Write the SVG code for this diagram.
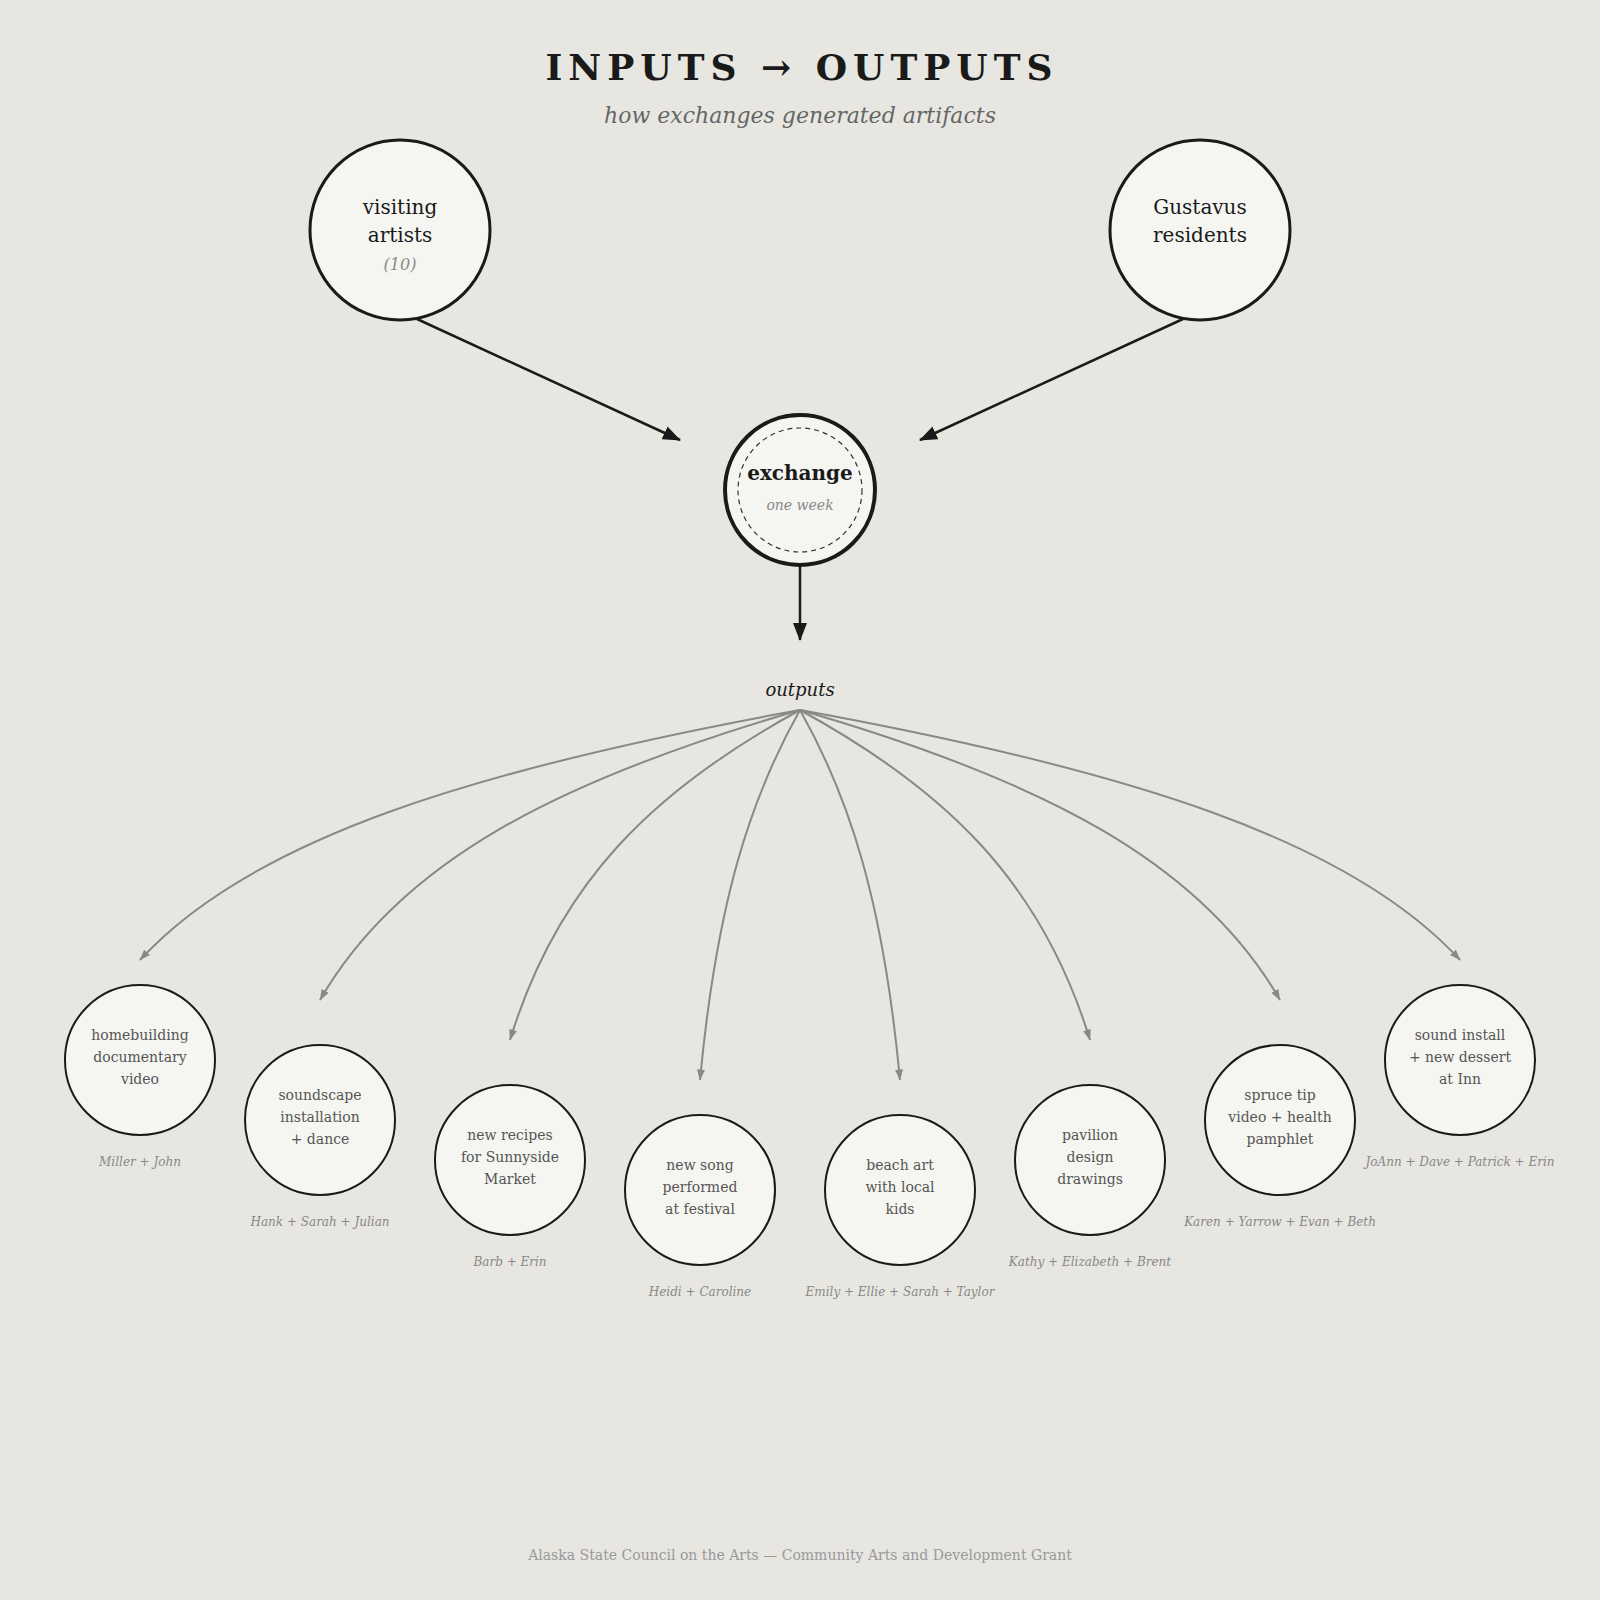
<svg xmlns="http://www.w3.org/2000/svg" width="1600" height="1600" viewBox="0 0 1600 1600">
<style>
text{font-family:"DejaVu Serif","Liberation Serif",serif;text-anchor:middle}
.title{font-size:36px;font-weight:bold;letter-spacing:6px;fill:#1a1a1a}
.sub{font-size:22px;font-style:italic;fill:#666}
.top{fill:#f5f5f1;stroke:#1a1a1a;stroke-width:3}
.topt{font-size:20px;fill:#1a1a1a}
.cnt{font-size:16px;font-style:italic;fill:#888}
.out{fill:#f5f5f1;stroke:#1a1a1a;stroke-width:2}
.outt{font-size:14px;fill:#555}
.who{font-size:12px;font-style:italic;fill:#888}
.bl{stroke:#1a1a1a;stroke-width:2.5;fill:none}
.gr{stroke:#888;stroke-width:2;fill:none}
</style>
<defs>
<marker id="ab" viewBox="0 0 18 14" refX="17" refY="7" markerWidth="18" markerHeight="14" markerUnits="userSpaceOnUse" orient="auto"><path d="M0,0 L18,7 L0,14 z" fill="#1a1a1a"/></marker>
<marker id="ag" viewBox="0 0 11 8" refX="10.5" refY="4" markerWidth="11" markerHeight="8" markerUnits="userSpaceOnUse" orient="auto"><path d="M0,0 L11,4 L0,8 z" fill="#888"/></marker>
</defs>
<rect width="1600" height="1600" fill="#e7e6e1"/>
<text class="title" x="802" y="80">INPUTS → OUTPUTS</text>
<text class="sub" x="800" y="123">how exchanges generated artifacts</text>

<g id="connectors">
<path class="bl" d="M417,319 L680,440" marker-end="url(#ab)"/>
<path class="bl" d="M1183,319 L920,440" marker-end="url(#ab)"/>
<path class="bl" d="M800,567 L800,640" marker-end="url(#ab)"/>
<path class="gr" d="M800,710 C470,770 250,840 140,960" marker-end="url(#ag)"/>
<path class="gr" d="M800,710 C560,779.6 400,860.8 320,1000" marker-end="url(#ag)"/>
<path class="gr" d="M800,710 C655,789.2 558.4,881.6 510,1040" marker-end="url(#ag)"/>
<path class="gr" d="M800,710 C750,798.8 716.7,902.4 700,1080" marker-end="url(#ag)"/>
<path class="gr" d="M800,710 C850,798.8 883.3,902.4 900,1080" marker-end="url(#ag)"/>
<path class="gr" d="M800,710 C945,789.2 1041.6,881.6 1090,1040" marker-end="url(#ag)"/>
<path class="gr" d="M800,710 C1040,779.6 1200,860.8 1280,1000" marker-end="url(#ag)"/>
<path class="gr" d="M800,710 C1130,770 1350,840 1460,960" marker-end="url(#ag)"/>
</g>

<g id="visiting-artists">
<circle class="top" cx="400" cy="230" r="90"/>
<text class="topt" x="400" y="214">visiting</text>
<text class="topt" x="400" y="242">artists</text>
<text class="cnt" x="400" y="270">(10)</text>
</g>
<g id="gustavus-residents">
<circle class="top" cx="1200" cy="230" r="90"/>
<text class="topt" x="1200" y="214">Gustavus</text>
<text class="topt" x="1200" y="242">residents</text>
</g>
<g id="exchange">
<circle cx="800" cy="490" r="75" fill="#f5f5f1" stroke="#1a1a1a" stroke-width="4"/>
<circle cx="800" cy="490" r="62" fill="none" stroke="#333" stroke-width="1.2" stroke-dasharray="5 4"/>
<text x="800" y="480" font-size="20" font-weight="bold" fill="#1a1a1a">exchange</text>
<text x="800" y="510" font-size="14" font-style="italic" fill="#888">one week</text>
</g>
<g id="outputs-label">
<text x="800" y="696" font-size="18" font-style="italic" fill="#1a1a1a">outputs</text>
</g>

<g id="out1">
<circle class="out" cx="140" cy="1060" r="75"/>
<text class="outt" x="140" y="1040">homebuilding</text>
<text class="outt" x="140" y="1062">documentary</text>
<text class="outt" x="140" y="1084">video</text>
<text class="who" x="140" y="1166">Miller + John</text>
</g>
<g id="out2">
<circle class="out" cx="320" cy="1120" r="75"/>
<text class="outt" x="320" y="1100">soundscape</text>
<text class="outt" x="320" y="1122">installation</text>
<text class="outt" x="320" y="1144">+ dance</text>
<text class="who" x="320" y="1226">Hank + Sarah + Julian</text>
</g>
<g id="out3">
<circle class="out" cx="510" cy="1160" r="75"/>
<text class="outt" x="510" y="1140">new recipes</text>
<text class="outt" x="510" y="1162">for Sunnyside</text>
<text class="outt" x="510" y="1184">Market</text>
<text class="who" x="510" y="1266">Barb + Erin</text>
</g>
<g id="out4">
<circle class="out" cx="700" cy="1190" r="75"/>
<text class="outt" x="700" y="1170">new song</text>
<text class="outt" x="700" y="1192">performed</text>
<text class="outt" x="700" y="1214">at festival</text>
<text class="who" x="700" y="1296">Heidi + Caroline</text>
</g>
<g id="out5">
<circle class="out" cx="900" cy="1190" r="75"/>
<text class="outt" x="900" y="1170">beach art</text>
<text class="outt" x="900" y="1192">with local</text>
<text class="outt" x="900" y="1214">kids</text>
<text class="who" x="900" y="1296">Emily + Ellie + Sarah + Taylor</text>
</g>
<g id="out6">
<circle class="out" cx="1090" cy="1160" r="75"/>
<text class="outt" x="1090" y="1140">pavilion</text>
<text class="outt" x="1090" y="1162">design</text>
<text class="outt" x="1090" y="1184">drawings</text>
<text class="who" x="1090" y="1266">Kathy + Elizabeth + Brent</text>
</g>
<g id="out7">
<circle class="out" cx="1280" cy="1120" r="75"/>
<text class="outt" x="1280" y="1100">spruce tip</text>
<text class="outt" x="1280" y="1122">video + health</text>
<text class="outt" x="1280" y="1144">pamphlet</text>
<text class="who" x="1280" y="1226">Karen + Yarrow + Evan + Beth</text>
</g>
<g id="out8">
<circle class="out" cx="1460" cy="1060" r="75"/>
<text class="outt" x="1460" y="1040">sound install</text>
<text class="outt" x="1460" y="1062">+ new dessert</text>
<text class="outt" x="1460" y="1084">at Inn</text>
<text class="who" x="1460" y="1166">JoAnn + Dave + Patrick + Erin</text>
</g>

<text x="800" y="1560" font-size="14" fill="#999">Alaska State Council on the Arts — Community Arts and Development Grant</text>
</svg>
